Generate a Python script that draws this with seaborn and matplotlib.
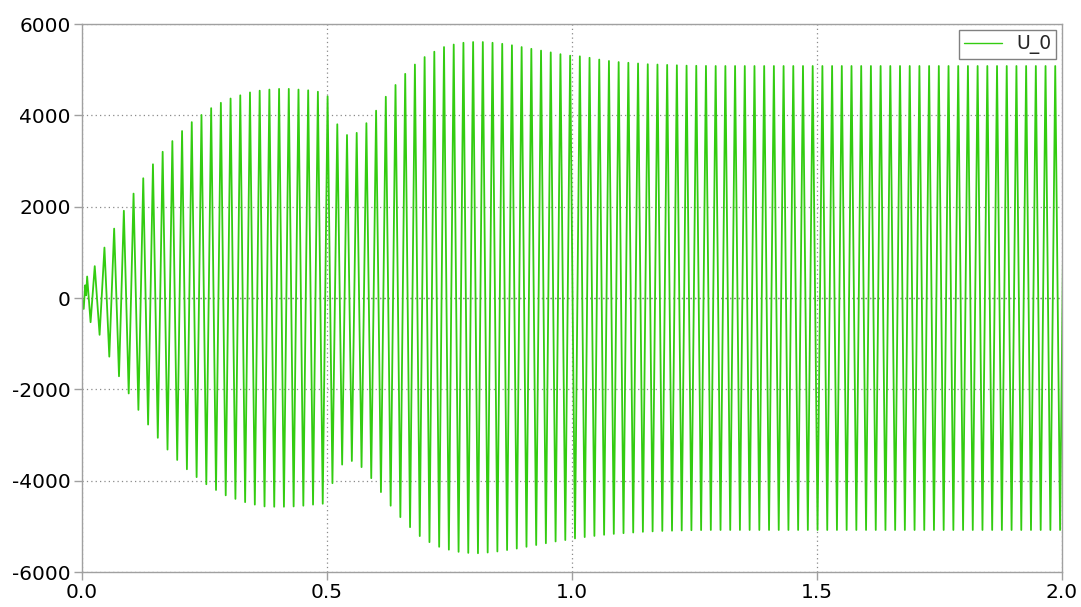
import numpy as np
import pandas as pd
import matplotlib
matplotlib.use("Agg")
import matplotlib.pyplot as plt
import seaborn as sns

# ---------------- data ----------------
series_name = "U_0"

# start-up transient (time s, value)
transient_t = [0.0, 0.0035, 0.0065, 0.0085, 0.0105, 0.0175]
transient_v = [0, -240, 280, 60, 470, -530]

# successive positive peaks (one per cycle, first at ~0.026 s, ~50 Hz)
first_peak_t = 0.026
cycle_s = 0.0198
peak_v = [697, 1104, 1519, 1910, 2286, 2622, 2928, 3202, 3436, 3656,
          3851, 4008, 4157, 4274, 4368, 4438, 4501, 4540, 4564, 4579,
          4579, 4564, 4548, 4517, 4415,
          3804, 3569, 3616, 3828, 4102, 4407, 4665, 4908, 5112, 5276,
          5393, 5495, 5550, 5589, 5605, 5605, 5589, 5566, 5534, 5495,
          5456, 5417, 5378, 5339, 5307,
          5292, 5260, 5221, 5190, 5166, 5151, 5135, 5119, 5112, 5104,
          5096, 5088, 5085, 5082, 5080, 5080, 5080, 5080, 5080, 5080,
          5080, 5080, 5080, 5080, 5080, 5080, 5080, 5080, 5080, 5080,
          5080, 5080, 5080, 5080, 5080, 5080, 5080, 5080, 5080, 5080,
          5080, 5080, 5080, 5080, 5080, 5080, 5080, 5080, 5080, 5080,
          5080]

# successive negative troughs (half a cycle after each peak)
trough_v = [-806, -1284, -1714, -2090, -2450, -2771, -3061, -3319, -3546, -3750,
            -3922, -4078, -4204, -4321, -4399, -4470, -4524, -4564, -4571, -4571,
            -4564, -4548, -4524, -4505,
            -4055, -3648, -3569, -3703, -3945, -4250, -4548, -4798, -5018, -5213,
            -5346, -5448, -5511, -5558, -5581, -5589, -5573, -5550, -5519, -5487,
            -5448, -5409, -5370, -5331, -5300,
            -5265, -5235, -5210, -5185, -5165, -5150, -5135, -5120, -5110, -5100,
            -5095, -5090, -5085, -5082, -5080, -5080, -5080, -5080, -5080, -5080,
            -5080, -5080, -5080, -5080, -5080, -5080, -5080, -5080, -5080, -5080,
            -5080, -5080, -5080, -5080, -5080, -5080, -5080, -5080, -5080, -5080,
            -5080, -5080, -5080, -5080, -5080, -5080, -5080, -5080, -5080, -5080,
            -5080]

x_ticks = [0.0, 0.5, 1.0, 1.5, 2.0]
x_tick_labels = ["0.0", "0.5", "1.0", "1.5", "2.0"]
y_ticks = [-6000, -4000, -2000, 0, 2000, 4000, 6000]
y_tick_labels = ["-6000", "-4000", "-2000", "0", "2000", "4000", "6000"]

# ---------------- build table ----------------
peak_t = first_peak_t + cycle_s * np.arange(len(peak_v))
trough_t = first_peak_t + cycle_s / 2 + cycle_s * np.arange(len(trough_v))
t_all = np.concatenate([transient_t, peak_t, trough_t])
v_all = np.concatenate([transient_v, peak_v, trough_v]).astype(float)
df = pd.DataFrame({"t": t_all, "U": v_all, "series": series_name})
df = df.sort_values("t").reset_index(drop=True)

# ---------------- plot ----------------
sns.set_theme(style="white")
plt.rcParams["font.family"] = ["DejaVu Sans"]
plt.rcParams["path.simplify"] = False

fig = plt.figure(figsize=(10.81, 6.07), dpi=100)
ax = fig.add_axes([82 / 1081, 35 / 607, 980 / 1081, 548 / 607])

sns.lineplot(data=df, x="t", y="U", hue="series", palette=["#33cc11"],
             estimator=None, sort=True, linewidth=1.3, ax=ax)

ax.set_xlim(0, 2.0)
ax.set_ylim(-6000, 6000)
ax.set_xticks(x_ticks)
ax.set_xticklabels(x_tick_labels)
ax.set_yticks(y_ticks)
ax.set_yticklabels(y_tick_labels)
ax.set_xlabel("")
ax.set_ylabel("")

ax.grid(True, color="#8a8a8a", linestyle=(0, (1, 2.5)), linewidth=0.9)
ax.axhline(0, color="#444444", linestyle=(0, (1, 2.5)), linewidth=0.9, zorder=0.5)
ax.set_axisbelow(True)

for s in ax.spines.values():
    s.set_color("#a0a0a0")
    s.set_linewidth(1.0)
    s.set_visible(True)

ax.tick_params(axis="both", which="major", direction="out", length=6,
               width=1.0, color="#a0a0a0", labelsize=14.5, labelcolor="black",
               pad=2, bottom=True, left=True)

leg = ax.legend(loc="upper right", fontsize=13.5, frameon=True, fancybox=False,
                framealpha=1.0, edgecolor="#808080", handlelength=2.0,
                borderaxespad=0.3, borderpad=0.25, handletextpad=0.8)
leg.get_frame().set_linewidth(1.0)
for line in leg.get_lines():
    line.set_linewidth(1.0)

fig.savefig("out.png", dpi=100)
